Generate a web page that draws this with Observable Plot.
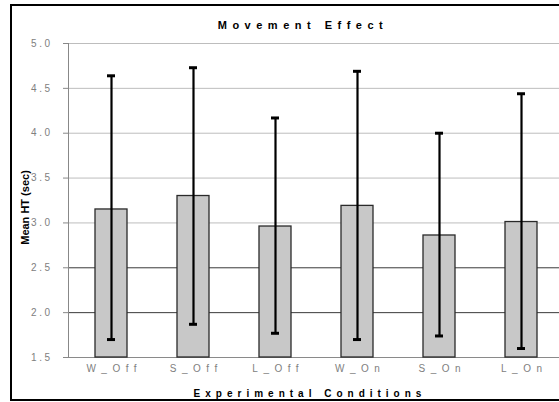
<!DOCTYPE html>
<html><head><meta charset="utf-8">
<script src="https://cdn.jsdelivr.net/npm/d3@7"></script>
<script src="https://cdn.jsdelivr.net/npm/@observablehq/plot@0.6"></script>
<style>
html,body{margin:0;padding:0;background:#fff;overflow:hidden}
#wrap{position:relative;width:559px;height:402px;overflow:hidden}
#chart{position:absolute;left:0;top:0}
#border{position:absolute;left:10px;top:4px;width:600px;height:393px;border:2px solid #000;pointer-events:none}
g[aria-label="y-axis tick label"] text{letter-spacing:2.5px}
g[aria-label="x-axis tick label"] text{letter-spacing:5.5px}
</style></head>
<body><div id="wrap"><div id="chart"></div><div id="border"></div></div>
<script>
const categories = ["W_Off", "S_Off", "L_Off", "W_On", "S_On", "L_On"];
const means = [3.15, 3.30, 2.96, 3.19, 2.86, 3.01];
const highs = [4.64, 4.73, 4.17, 4.69, 4.00, 4.44];
const lows  = [1.70, 1.87, 1.77, 1.70, 1.74, 1.60];
const yTicks = [1.5, 2.0, 2.5, 3.0, 3.5, 4.0, 4.5, 5.0];
const yBase = 1.5;
const title = "Movement Effect";
const xTitle = "Experimental Conditions";
const yTitle = "Mean HT (sec)";

const data = categories.map((c, i) => ({cond: c, mean: means[i], hi: highs[i], lo: lows[i]}));
const gridColor = v => v >= 3 ? "#bdbdbd" : v > yBase ? "#3a3a3a" : "#8a8a8a";

const chart = Plot.plot({
  width: 559, height: 402,
  marginTop: 43, marginBottom: 45, marginLeft: 68, marginRight: -4,
  style: {fontFamily: "'Liberation Sans', Arial, sans-serif", background: "transparent", overflow: "visible"},
  x: {domain: categories, paddingInner: 0.614, paddingOuter: 0.29, axis: null},
  y: {domain: [1.5, 5], axis: null},
  color: {type: "identity"},
  marks: [
    Plot.ruleY(yTicks, {y: d => d, stroke: gridColor, strokeWidth: 1}),
    Plot.barY(data, {x: "cond", y1: yBase, y2: "mean", fill: "#c8c8c8", stroke: "#2a2a2a", strokeWidth: 1.3}),
    Plot.frame({anchor: "left", stroke: "#888"}),
    Plot.axisY(yTicks, {tickSize: 5, tickPadding: 11, tickFormat: d => d.toFixed(1), fill: "#808080", stroke: "#888", fontSize: 10, label: null}),
    Plot.axisX({tickSize: 0, tickPadding: 7, fill: "#808080", fontSize: 10, label: null, dx: 2.75}),
    Plot.ruleX(data, {x: "cond", y1: "lo", y2: "hi", stroke: "#000", strokeWidth: 2.2}),
    Plot.tickY(data, {x: "cond", y: "hi", stroke: "#000", strokeWidth: 3, insetLeft: 12, insetRight: 12}),
    Plot.tickY(data, {x: "cond", y: "lo", stroke: "#000", strokeWidth: 3, insetLeft: 12, insetRight: 12}),
    Plot.text([title], {frameAnchor: "top", textAnchor: "middle", lineAnchor: "middle", dx: -13, dy: -18.5, fontSize: 11, fontWeight: "bold", fill: "#000"}),
    Plot.text([xTitle], {frameAnchor: "bottom", textAnchor: "middle", lineAnchor: "middle", dx: -6, dy: 36, fontSize: 10, fontWeight: "bold", fill: "#000"}),
    Plot.text([yTitle], {frameAnchor: "left", textAnchor: "middle", lineAnchor: "middle", dx: -43, dy: 7, rotate: -90, fontSize: 11, fontWeight: "bold", fill: "#000"})
  ]
});
const spacing = new Map([[title, "5.5px"], [xTitle, "5px"]]);
d3.select(chart).selectAll("text").each(function() {
  const ls = spacing.get(this.textContent);
  if (ls) this.style.letterSpacing = ls;
});
document.getElementById("chart").appendChild(chart);
</script>
</body></html>
